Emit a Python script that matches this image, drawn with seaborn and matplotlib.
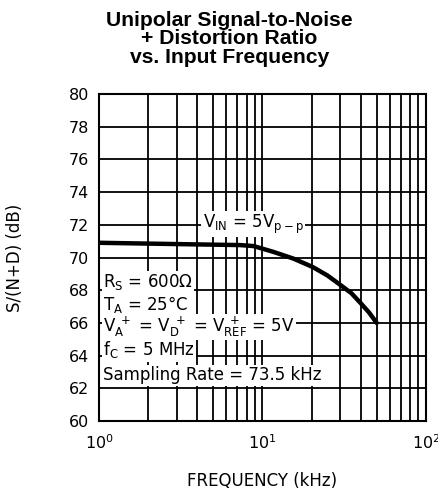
import numpy as np
import pandas as pd
import seaborn as sns
import matplotlib.pyplot as plt
from matplotlib.ticker import LogLocator, NullFormatter

# Data
freq_khz = [1, 2, 4, 7.3, 8.8, 9.7, 11.7, 15.5, 20.3, 25, 30, 35, 40, 45, 50]
snd_db = [70.9, 70.85, 70.8, 70.76, 70.7, 70.58, 70.34, 69.93, 69.42, 68.9, 68.32, 67.82, 67.2, 66.63, 66.0]
y_ticks = [60, 62, 64, 66, 68, 70, 72, 74, 76, 78, 80]
x_ticks = [1, 10, 100]
x_tick_labels = [r'$10^0$', r'$10^1$', r'$10^2$']

df = pd.DataFrame({'freq': freq_khz, 'snd': snd_db})

sns.set_style('white')
plt.rcParams['font.family'] = ['DejaVu Sans']
plt.rcParams['mathtext.fontset'] = 'dejavusans'
plt.rcParams['mathtext.default'] = 'regular'
plt.rcParams['text.color'] = 'black'
plt.rcParams['axes.labelcolor'] = 'black'

fig = plt.figure(figsize=(4.39, 5.0), dpi=100)
ax = fig.add_axes([0.2255, 0.158, 0.7445, 0.654])

sns.lineplot(data=df, x='freq', y='snd', ax=ax, color='black', linewidth=3.2, zorder=3)

ax.set_xscale('log')
ax.set_xlim(1, 100)
ax.set_ylim(60, 80)
ax.set_yticks(y_ticks)
ax.set_xticks(x_ticks)
ax.set_xticklabels(x_tick_labels)
ax.xaxis.set_minor_locator(LogLocator(base=10, subs=np.arange(2, 10)))
ax.xaxis.set_minor_formatter(NullFormatter())

ax.grid(True, which='both', axis='x', color='black', linewidth=1.3)
ax.grid(True, which='major', axis='y', color='black', linewidth=1.3)
ax.tick_params(axis='both', which='both', length=0, labelsize=11.5, colors='black')
ax.tick_params(axis='y', pad=7)
ax.tick_params(axis='x', pad=9)
for s in ax.spines.values():
    s.set_color('black')
    s.set_linewidth(1.5)

ax.set_xlabel('FREQUENCY (kHz)', fontsize=12, labelpad=14)
ax.set_ylabel('S/(N+D) (dB)', fontsize=12, labelpad=32)

box = dict(facecolor='white', edgecolor='none', pad=1.0)
tkw = dict(fontsize=12, color='black', bbox=box, zorder=4, va='center')
ax.text(4.3, 72.05, r'$V_{IN}$ = 5$V_{p-p}$', **tkw)
ax.text(1.06, 68.5, r'$R_S$ = 600$\Omega$', **tkw)
ax.text(1.06, 67.1, r'$T_A$ = 25°C', **tkw)
ax.text(1.06, 65.75, r'$V_A^{\ +}$ = $V_D^{\ +}$ = $V_{REF}^{\ +}$ = 5V', **tkw)
ax.text(1.06, 64.35, r'$f_C$ = 5 MHz', **tkw)
ax.text(1.06, 62.8, 'Sampling Rate = 73.5 kHz', **tkw)

fig.text(0.522, 0.978, 'Unipolar Signal-to-Noise\n+ Distortion Ratio\nvs. Input Frequency',
         ha='center', va='top', fontsize=15.2, fontweight='bold',
         family=['Liberation Sans', 'DejaVu Sans'], linespacing=0.96)

fig.savefig('out.png', dpi=100)
